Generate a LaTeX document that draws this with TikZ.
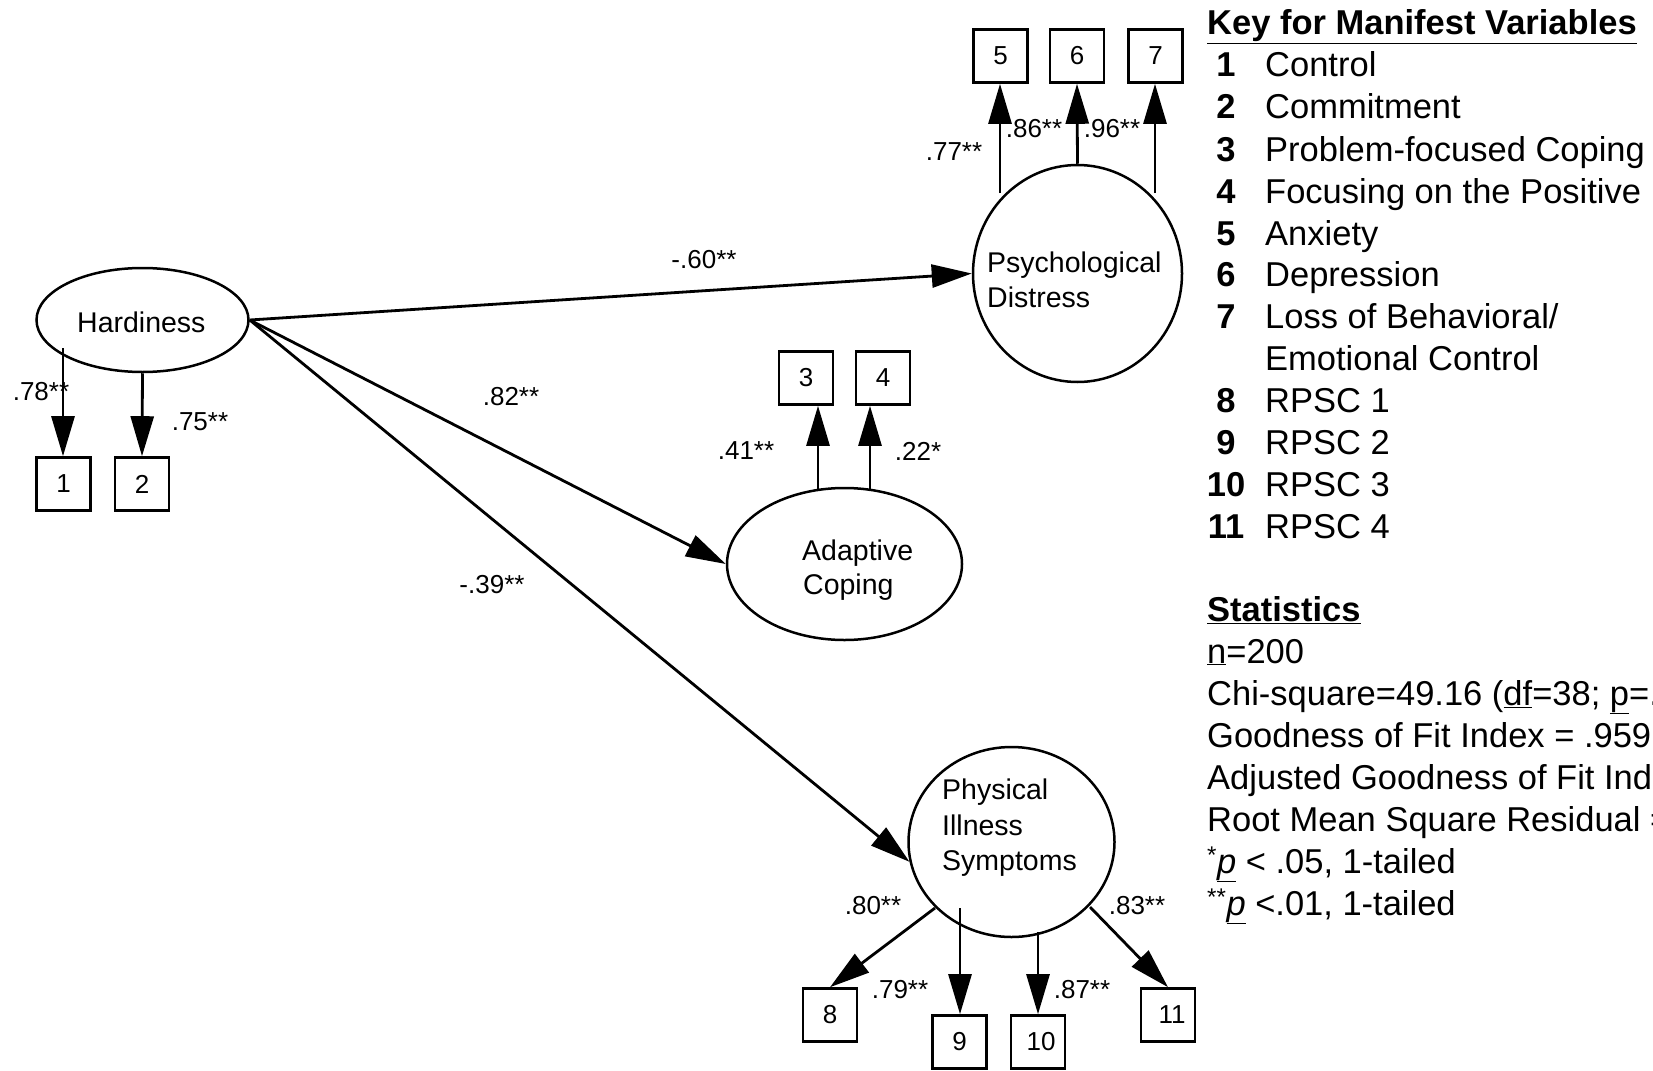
\documentclass[tikz,border=0pt]{standalone}
\usepackage{fontspec}
\setmainfont{Liberation Sans}
\usetikzlibrary{arrows.meta,shapes.geometric,calc}
\begin{document}
\begin{tikzpicture}[x=1pt,y=-1pt,
  latent/.style={draw, ellipse, line width=2.5pt, inner sep=0pt},
  mbox/.style={draw, rectangle, minimum width=54pt, minimum height=53pt, line width=2.6pt, inner sep=0pt, font=\fontsize{26}{26}\selectfont},
  arr/.style={-{Triangle[length=40pt,width=23pt]}, line width=2.8pt},
  lab/.style={font=\fontsize{26}{26}\selectfont, inner sep=0pt},
  ltxt/.style={font=\fontsize{28.5}{28.5}\selectfont, anchor=base west, inner sep=0pt},
  keyn/.style={font=\fontsize{34.5}{34.5}\selectfont\bfseries, anchor=base, inner sep=0pt},
  keyt/.style={font=\fontsize{34.5}{34.5}\selectfont, anchor=base west, inner sep=0pt},
]
\clip (0,0) rectangle (1653,1070);
\fill[white] (0,0) rectangle (1653,1070);

% latent variables
\node[latent, minimum width=212pt, minimum height=104pt] (hd) at (142.5,320) {};
\node[ltxt] (hdt) at (77,332) {Hardiness};

\node[latent, minimum width=209pt, minimum height=217pt] (pd) at (1077.5,273.5) {};
\node[ltxt] (pdt1) at (987,272) {Psychological};
\node[ltxt] (pdt2) at (987,307) {Distress};

\node[latent, minimum width=235pt, minimum height=152pt] (ac) at (844.5,564) {};
\node[ltxt] (act1) at (802,560) {Adaptive};
\node[ltxt] (act2) at (803,594) {Coping};

\node[latent, minimum width=206pt, minimum height=190pt] (pis) at (1011.5,842) {};
\node[ltxt] (pist1) at (942,799) {Physical};
\node[ltxt] (pist2) at (942,835) {Illness};
\node[ltxt] (pist3) at (942,870) {Symptoms};

% manifest variables
\node[mbox] (b1) at (63.5,484) {1};
\node[mbox] (b2) at (142,484) {2};
\node[mbox] (b3) at (806,378) {3};
\node[mbox] (b4) at (883,378) {4};
\node[mbox] (b5) at (1000.5,56) {5};
\node[mbox] (b6) at (1077,56) {6};
\node[mbox] (b7) at (1155.5,56) {7};
\node[mbox] (b8) at (830,1015) {8};
\node[mbox] (b9) at (959.5,1042) {9};
\node[mbox] (b10) at (1038,1042) {\hspace*{6pt}10};
\node[mbox] (b11) at (1168,1015) {\hspace*{8pt}11};

% start points of loadings
\coordinate (s1) at (63,348);
\coordinate (s3) at (818,491);
\coordinate (s4) at (870,491);
\coordinate (s5) at (1000,193);
\coordinate (s7) at (1155,193);
\coordinate (s8) at (935,908);
\coordinate (s9) at (960,908);
\coordinate (s10) at (1038,932);
\coordinate (s11) at (1090,907);

% loadings
\draw[arr] (s1) -- (s1 |- b1.north);
\draw[arr] (hd.south) -- (b2.north);
\draw[arr] (s3) -- (s3 |- b3.south);
\draw[arr] (s4) -- (s4 |- b4.south);
\draw[arr] (s5) -- (s5 |- b5.south);
\draw[arr] (pd.north) -- (b6.south);
\draw[arr] (s7) -- (s7 |- b7.south);
\draw[arr] (s8) -- (b8.north);
\draw[arr] (s9) -- (s9 |- b9.north);
\draw[arr] (s10) -- (s10 |- b10.north);
\draw[arr] (s11) -- (b11.north);

% structural paths
\draw[arr] (hd.east) -- (pd.west);
\draw[arr] (hd.east) -- (ac.west);
\draw[arr] (hd.east) -- (pis.191);

% coefficient labels
\node[lab] (l78) at (41,392) {.78**};
\node[lab] (l75) at (200,422) {.75**};
\node[lab] (l77) at (954,152) {.77**};
\node[lab] (l86) at (1034,129) {.86**};
\node[lab] (l96) at (1112,129) {.96**};
\node[lab] (l41) at (746,451) {.41**};
\node[lab] (l22) at (918,451) {.22*};
\node[lab] (l60) at (704,260) {-.60**};
\node[lab] (l82) at (511,397) {.82**};
\node[lab] (l39) at (492,585) {-.39**};
\node[lab] (l80) at (873,906) {.80**};
\node[lab] (l79) at (900,990) {.79**};
\node[lab] (l87) at (1082,990) {.87**};
\node[lab] (l83) at (1137,906) {.83**};

% key
\node[keyt, font=\fontsize{34.5}{34.5}\selectfont\bfseries] (ktitle) at (1207,35) {\underline{Key for Manifest Variables}};
\node[keyn] (kn1) at (1226,77) {1};   \node[keyt] (kt1) at (1265,77) {Control};
\node[keyn] (kn2) at (1226,119) {2};  \node[keyt] (kt2) at (1265,119) {Commitment};
\node[keyn] (kn3) at (1226,161) {3};  \node[keyt] (kt3) at (1265,161) {Problem-focused Coping};
\node[keyn] (kn4) at (1226,203) {4};  \node[keyt] (kt4) at (1265,203) {Focusing on the Positive};
\node[keyn] (kn5) at (1226,245) {5};  \node[keyt] (kt5) at (1265,245) {Anxiety};
\node[keyn] (kn6) at (1226,286) {6};  \node[keyt] (kt6) at (1265,286) {Depression};
\node[keyn] (kn7) at (1226,328) {7};  \node[keyt] (kt7) at (1265,328) {Loss of Behavioral/};
\node[keyt] (kt7b) at (1265,370) {Emotional Control};
\node[keyn] (kn8) at (1226,412) {8};  \node[keyt] (kt8) at (1265,412) {RPSC 1};
\node[keyn] (kn9) at (1226,454) {9};  \node[keyt] (kt9) at (1265,454) {RPSC 2};
\node[keyn] (kn10) at (1226,496) {10}; \node[keyt] (kt10) at (1265,496) {RPSC 3};
\node[keyn] (kn11) at (1226,538) {11}; \node[keyt] (kt11) at (1265,538) {RPSC 4};

% statistics
\node[keyt, font=\fontsize{34.5}{34.5}\selectfont\bfseries] (stitle) at (1207,621) {\underline{Statistics}};
\node[keyt] (st1) at (1207,663) {\underline{n}=200};
\node[keyt] (st2) at (1207,705) {Chi-square=49.16 (\underline{df}=38; \underline{p}=.};
\node[keyt] (st3) at (1207,747) {Goodness of Fit Index = .959};
\node[keyt] (st4) at (1207,789) {Adjusted Goodness of Fit Inde};
\node[keyt] (st5) at (1207,831) {Root Mean Square Residual =};
\node[keyt] (st6) at (1207,873) {\textsuperscript{*}\underline{\textit{p}} < .05, 1-tailed};
\node[keyt] (st7) at (1207,915) {\textsuperscript{**}\underline{\textit{p}} <.01, 1-tailed};
\end{tikzpicture}
\end{document}
